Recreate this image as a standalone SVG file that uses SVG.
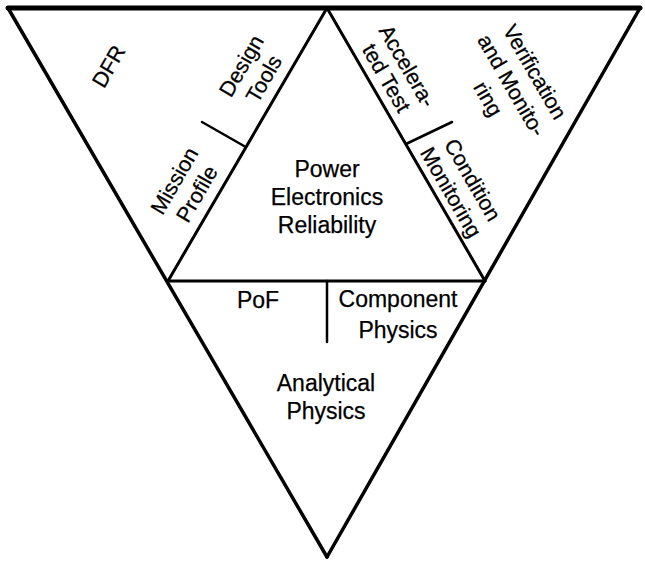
<svg xmlns="http://www.w3.org/2000/svg" width="645" height="563" viewBox="0 0 645 563">
<style>
.ln{stroke:#000;fill:none;stroke-linecap:round;stroke-linejoin:round}
.t{font-family:"Liberation Sans",Arial,sans-serif;font-size:23px;fill:#000;text-anchor:middle;stroke:#000;stroke-width:0.25}
.r{font-size:21.5px}
</style>
<rect width="645" height="563" fill="#fff"/>
<g id="connectors">
<line class="ln" x1="8" y1="8" x2="640" y2="8" stroke-width="5"/>
<line class="ln" x1="8" y1="8" x2="327" y2="557" stroke-width="3.5"/>
<line class="ln" x1="640" y1="8" x2="327" y2="557" stroke-width="3.5"/>
<line class="ln" x1="327" y1="8" x2="168" y2="281" stroke-width="3"/>
<line class="ln" x1="327" y1="8" x2="485" y2="281" stroke-width="3"/>
<line class="ln" x1="168" y1="281" x2="485" y2="281" stroke-width="3"/>
<line class="ln" x1="327" y1="281" x2="327" y2="342" stroke-width="2.5"/>
<line class="ln" x1="202" y1="122" x2="244" y2="146" stroke-width="2.5"/>
<line class="ln" x1="406" y1="144" x2="452" y2="122" stroke-width="2.5"/>
</g>
<g id="dfr"><text class="t r" transform="translate(108,66) rotate(-60)" y="8">DFR</text></g>
<g id="design-tools"><text class="t r" transform="translate(252,72) rotate(-60)"><tspan x="0" y="-5">Design</tspan><tspan x="0" y="21">Tools</tspan></text></g>
<g id="mission-profile"><text class="t r" transform="translate(185,187) rotate(-60)"><tspan x="0" y="-5">Mission</tspan><tspan x="0" y="21">Profile</tspan></text></g>
<g id="per"><text class="t"><tspan x="327" y="177">Power</tspan><tspan x="327" y="205">Electronics</tspan><tspan x="327" y="233">Reliability</tspan></text></g>
<g id="accelerated-test"><text class="t r" transform="translate(397,72) rotate(60)"><tspan x="0" y="-4.5">Accelera-</tspan><tspan x="0" y="19.5">ted Test</tspan></text></g>
<g id="verification"><text class="t r" transform="translate(512,85) rotate(60)"><tspan x="0" y="-19">Verification</tspan><tspan x="0" y="8">and Monito-</tspan><tspan x="0" y="35">ring</tspan></text></g>
<g id="condition-monitoring"><text class="t r" transform="translate(462,186) rotate(60)"><tspan x="0" y="-5">Condition</tspan><tspan x="0" y="20">Monitoring</tspan></text></g>
<g id="pof"><text class="t" x="258" y="308">PoF</text></g>
<g id="component-physics"><text class="t"><tspan x="398" y="307">Component</tspan><tspan x="398" y="338">Physics</tspan></text></g>
<g id="analytical-physics"><text class="t"><tspan x="326" y="391">Analytical</tspan><tspan x="326" y="419">Physics</tspan></text></g>
</svg>
